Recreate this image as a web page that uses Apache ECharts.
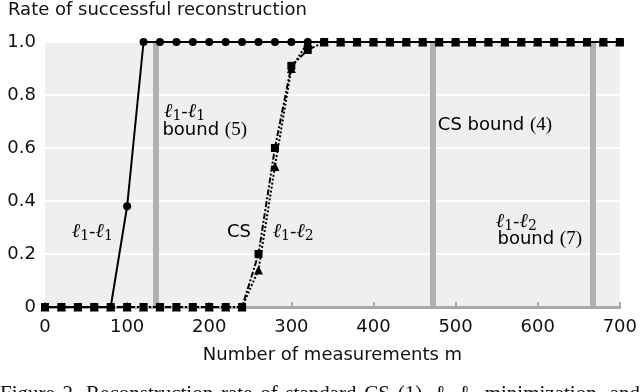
<!DOCTYPE html>
<html>
<head>
<meta charset="utf-8">
<script src="https://cdn.jsdelivr.net/npm/echarts@6/dist/echarts.min.js"></script>
<style>html,body{margin:0;padding:0;background:#fff;}#c{width:640px;height:392px;}</style>
</head>
<body>
<div id="c"></div>
<script>
// ---- data ----
const measurements = [0,20,40,60,80,100,120,140,160,180,200,220,240,260,280,300,320,340,360,380,400,420,440,460,480,500,520,540,560,580,600,620,640,660,680,700];
const rateL1L1 = [0,0,0,0,0,0.38,1,1,1,1,1,1,1,1,1,1,1,1,1,1,1,1,1,1,1,1,1,1,1,1,1,1,1,1,1,1];
const rateCS   = [0,0,0,0,0,0,0,0,0,0,0,0,0,0.14,0.53,0.90,1,1,1,1,1,1,1,1,1,1,1,1,1,1,1,1,1,1,1,1];
const rateL1L2 = [0,0,0,0,0,0,0,0,0,0,0,0,0,0.20,0.60,0.91,0.97,1,1,1,1,1,1,1,1,1,1,1,1,1,1,1,1,1,1,1];
const boundValues = [135, 472, 667];

const SANS = 'DejaVu Sans';
const pair = (a, b) => measurements.map((m, i) => [m, b[i]]);

const chart = echarts.init(document.getElementById('c'), null, {renderer: 'canvas'});

const option = {
  animation: false,
  backgroundColor: '#ffffff',
  grid: {left: 45, right: 17, top: 42, bottom: 85, show: true, backgroundColor: '#efefef', borderWidth: 0},
  xAxis: {
    type: 'value', min: 0, max: 700, interval: 100,
    name: 'Number of measurements m', nameLocation: 'middle', nameGap: 39,
    nameTextStyle: {fontFamily: SANS, fontSize: 18, color: '#111'},
    axisLine: {show: true, lineStyle: {color: '#a9a9a9', width: 3}},
    axisTick: {show: true, inside: true, length: 5, lineStyle: {color: '#a9a9a9', width: 2}},
    axisLabel: {fontFamily: SANS, fontSize: 18, color: '#111', margin: 11},
    splitLine: {show: false}
  },
  yAxis: {
    type: 'value', min: 0, max: 1, interval: 0.2,
    axisLine: {show: false}, axisTick: {show: false},
    axisLabel: {fontFamily: SANS, fontSize: 18, color: '#111', margin: 9,
      formatter: v => (v === 0 ? '0' : v.toFixed(1))},
    splitLine: {show: true, lineStyle: {color: '#ffffff', width: 2}}
  },
  series: [
    {
      type: 'line', data: [], silent: true, z: 1,
      markLine: {
        silent: true, symbol: ['none', 'none'], z: 1,
        label: {show: false},
        lineStyle: {color: '#b0b0b0', width: 6, type: 'solid'},
        data: boundValues.map(v => ({xAxis: v}))
      }
    },
    {
      name: 'l1-l1', type: 'line', data: pair(measurements, rateL1L1), z: 3,
      symbol: 'circle', symbolSize: 8, showAllSymbol: true,
      lineStyle: {color: '#000', width: 2},
      itemStyle: {color: '#000'}
    },
    {
      name: 'CS', type: 'line', data: pair(measurements, rateCS), z: 4,
      symbol: 'triangle', symbolSize: 9, showAllSymbol: true,
      lineStyle: {color: '#000', width: 2, type: [2, 2]},
      itemStyle: {color: '#000'}
    },
    {
      name: 'l1-l2', type: 'line', data: pair(measurements, rateL1L2), z: 5,
      symbol: 'rect', symbolSize: 8, showAllSymbol: true,
      lineStyle: {color: '#000', width: 2, type: [6, 2, 2, 2]},
      itemStyle: {color: '#000'}
    }
  ]
};
chart.setOption(option);

// ---- annotations (data coordinates) ----
const rich = {
  l: {fontFamily: 'DejaVu Serif', fontStyle: 'italic', fontSize: 20, color: '#111'},
  s: {fontFamily: 'DejaVu Serif', fontSize: 14, color: '#111', padding: [8, 0, 0, 0]},
  h: {fontFamily: SANS, fontSize: 18, color: '#111'},
  t: {fontFamily: SANS, fontSize: 18, color: '#111'},
  r: {fontFamily: 'Liberation Serif', fontSize: 19, color: '#111'}
};
const ell = (a, b) => `{l|ℓ}{s|${a}}{h|-}{l|ℓ}{s|${b}}`;
const annotations = [
  {x: 32.7, y: 0.283, text: ell(1, 1)},
  {x: 145, y: 0.736, text: ell(1, 1)},
  {x: 143, y: 0.668, text: '{t|bound }{r|(5)}'},
  {x: 221.6, y: 0.283, text: '{t|CS}'},
  {x: 277.3, y: 0.283, text: ell(1, 2)},
  {x: 478.4, y: 0.687, text: '{t|CS bound }{r|(4)}'},
  {x: 549, y: 0.321, text: ell(1, 2)},
  {x: 551, y: 0.257, text: '{t|bound }{r|(7)}'}
];
const graphics = annotations.map(a => {
  const p = chart.convertToPixel({gridIndex: 0}, [a.x, a.y]);
  return {type: 'text', x: p[0], y: p[1], z: 10,
    style: {text: a.text, rich: rich, align: 'left', verticalAlign: 'middle'}};
});
// title
graphics.push({type: 'text', x: 8, y: 10, z: 10,
  style: {text: 'Rate of successful reconstruction', fontFamily: SANS, fontSize: 18, fill: '#111', align: 'left', verticalAlign: 'middle'}});
// caption (justified line, cut off at the bottom of the picture)
const captionWords = ['Figure', '2.', 'Reconstruction', 'rate', 'of', 'standard', 'CS', '(1),', 'ℓ₁-ℓ₂', 'minimization,', 'and'];
const capFont = '21px "Liberation Serif"';
const ctx = document.createElement('canvas').getContext('2d');
ctx.font = capFont;
const widths = captionWords.map(w => ctx.measureText(w).width);
const total = widths.reduce((s, w) => s + w, 0);
const gap = (640 - total) / (captionWords.length - 1);
let cx = 0;
captionWords.forEach((w, i) => {
  graphics.push({type: 'text', x: cx, y: 394, z: 10,
    style: {text: w, fontFamily: 'Liberation Serif', fontSize: 21, fill: '#111', align: 'left', verticalAlign: 'middle'}});
  cx += widths[i] + gap;
});
chart.setOption({graphic: graphics});
</script>
</body>
</html>
